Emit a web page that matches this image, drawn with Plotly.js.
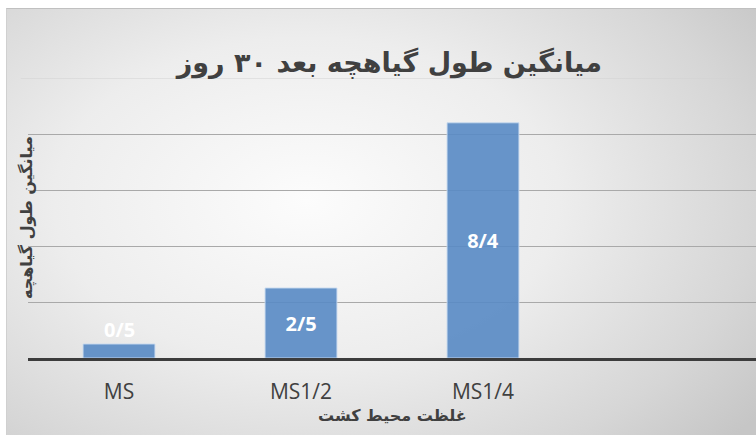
<!DOCTYPE html>
<html>
<head>
<meta charset="utf-8">
<script src="https://cdn.plot.ly/plotly-3.0.1.min.js"></script>
<style>
  html, body { margin: 0; padding: 0; background: #ffffff; }
  #wrap { position: relative; width: 756px; height: 435px; overflow: hidden; }
  #bg { position: absolute; left: 6px; top: 8px; right: 0; bottom: 0;
        background: radial-gradient(ellipse 75% 85% at 40% 45%, #fcfcfc 0%, #ededed 45%, #d6d6d6 80%, #c6c6c6 100%);
        border-top: 1px solid #c0c0c0; border-left: 1px solid #d0d0d0; }
  #chart { position: absolute; left: 0; top: 0; width: 756px; height: 435px; }
</style>
</head>
<body>
<div id="wrap">
  <div id="bg"></div>
  <div id="chart"></div>
</div>
<script>
const categories = ['MS', 'MS1/2', 'MS1/4'];
const values = [0.5, 2.5, 8.4];
const labels = values.map(v => v.toFixed(1).replace('.', '/'));
const titleText = 'میانگین طول گیاهچه بعد ۳۰ روز';
const xTitle = 'غلظت محیط کشت';
const yTitle = 'میانگین طول گیاهچه';
const gridVals = [2, 4, 6, 8];

const idx = categories.map((c, i) => i);
const small = values.map(v => v < 1);
const labelFont = { family: 'Open Sans, sans-serif', size: 20, color: '#ffffff', weight: 'bold' };

const trace = {
  type: 'bar',
  x: idx,
  y: values,
  width: 0.395,
  text: labels.map((t, i) => small[i] ? '' : t),
  textposition: 'inside',
  insidetextanchor: 'middle',
  constraintext: 'none',
  cliponaxis: false,
  textfont: labelFont,
  insidetextfont: labelFont,
  marker: { color: 'rgba(88,138,196,0.9)', line: { color: 'rgba(200,218,240,0.9)', width: 1 } },
  hoverinfo: 'skip'
};

const smallLabels = idx.filter(i => small[i]).map(i => ({
  text: labels[i], xref: 'x', yref: 'y', x: i, y: values[i],
  xanchor: 'center', yanchor: 'bottom', yshift: -1, showarrow: false, font: labelFont
}));

const layout = {
  width: 756,
  height: 435,
  margin: { l: 28, r: 0, t: 78, b: 77 },
  paper_bgcolor: 'rgba(0,0,0,0)',
  plot_bgcolor: 'rgba(0,0,0,0)',
  showlegend: false,
  title: {
    text: titleText,
    font: { family: 'DejaVu Sans, sans-serif', size: 27, color: '#404040', weight: 'bold' },
    x: 0.515, xanchor: 'center', xref: 'container',
    y: 0.857, yanchor: 'middle', yref: 'container'
  },
  xaxis: {
    range: [-0.5, 3.5],
    tickvals: idx,
    ticktext: categories,
    ticks: 'outside',
    ticklen: 13,
    tickcolor: 'rgba(0,0,0,0)',
    tickfont: { family: 'Open Sans, sans-serif', size: 21, color: '#404040' },
    showgrid: false,
    zeroline: false,
    showline: true,
    linecolor: '#3c3c3c',
    linewidth: 3,
    fixedrange: true
  },
  yaxis: {
    range: [0, 10],
    tickvals: gridVals,
    showticklabels: false,
    showgrid: true,
    gridcolor: '#a9a9a9',
    gridwidth: 1,
    zeroline: false,
    showline: false,
    fixedrange: true
  },
  shapes: [
    { type: 'line', xref: 'paper', yref: 'y', x0: -0.01, x1: 1, y0: 10, y1: 10,
      line: { color: '#d2d2d2', width: 1 }, layer: 'below' }
  ],
  annotations: [
    { text: yTitle, xref: 'paper', yref: 'paper', x: 0, y: 0.5, xanchor: 'center', yanchor: 'middle',
      xshift: -1, textangle: -90, showarrow: false,
      font: { family: 'DejaVu Sans, sans-serif', size: 16, color: '#404040', weight: 'bold' } },
    { text: xTitle, xref: 'paper', yref: 'paper', x: 0.5, y: 0, xanchor: 'center', yanchor: 'top',
      yshift: -46, showarrow: false,
      font: { family: 'DejaVu Sans, sans-serif', size: 16, color: '#404040', weight: 'bold' } }
  ].concat(smallLabels)
};

Plotly.newPlot('chart', [trace], layout, { displayModeBar: false, staticPlot: true });
</script>
</body>
</html>
